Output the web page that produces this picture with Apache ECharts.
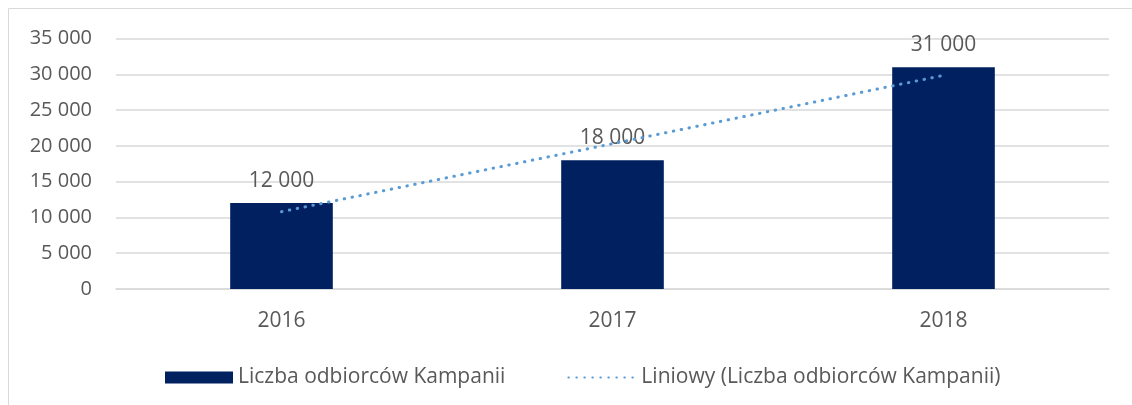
<!DOCTYPE html>
<html>
<head>
<meta charset="utf-8">
<script src="https://cdn.jsdelivr.net/npm/echarts@6/dist/echarts.min.js"></script>
<style>
  html, body { margin: 0; padding: 0; background: #fff; }
  #chart { width: 1132px; height: 405px; }
</style>
</head>
<body>
<div id="chart"></div>
<script>
const years = ['2016', '2017', '2018'];
const odbiorcy = [12000, 18000, 31000];
// linia trendu
const trend = [10800, 20300, 29850];
const barName = 'Liczba odbiorców Kampanii';
const trendName = 'Liniowy (Liczba odbiorców Kampanii)';

const textColor = '#595959';
const fontFamily = '"Open Sans", "Liberation Sans", sans-serif';

// format z odstepem tysiecy, np. 12 000
function fmt(v) {
    return String(v).replace(/\B(?=(\d{3})+(?!\d))/g, ' ');
}

document.addEventListener('DOMContentLoaded', () => {
    var chart = echarts.init(document.getElementById('chart'));

    const option = {
        animation: false,
        textStyle: { fontFamily: fontFamily },
        graphic: [{
            type: 'rect',
            shape: { x: 8.5, y: 8.5, width: 1300, height: 600 },
            style: { fill: 'none', stroke: '#d9d9d9', lineWidth: 1 },
            silent: true
        }],
        grid: { left: 116, right: 23, top: 38.5, bottom: 116 },
        legend: {
            left: 160,
            top: 362,
            itemWidth: 68,
            itemHeight: 12,
            itemGap: 62,
            textStyle: { color: textColor, fontSize: 21, fontFamily: fontFamily },
            data: [
                { name: barName, icon: 'rect' },
                { name: trendName, itemStyle: { color: 'transparent', borderWidth: 0 } }
            ]
        },
        xAxis: {
            type: 'category',
            data: years,
            axisLine: { lineStyle: { color: '#d9d9d9', width: 1.5 } },
            axisTick: { show: false },
            axisLabel: { color: textColor, fontSize: 21, margin: 22 }
        },
        yAxis: {
            type: 'value',
            min: 0,
            max: 35000,
            interval: 5000,
            axisLine: { show: false },
            axisTick: { show: false },
            splitLine: { lineStyle: { color: '#d9d9d9', width: 1.5 } },
            axisLabel: { color: textColor, fontSize: 20, margin: 24, formatter: v => fmt(v) }
        },
        series: [{
            name: barName,
            type: 'bar',
            data: odbiorcy,
            barWidth: '31%',
            itemStyle: { color: '#002060' },
            label: {
                show: true,
                position: 'top',
                distance: 12,
                color: textColor,
                fontSize: 21,
                formatter: p => fmt(p.value)
            },
            z: 2
        }, {
            name: trendName,
            type: 'line',
            data: trend,
            symbol: 'none',
            lineStyle: { color: '#5b9bd5', width: 3, type: [0.5, 7.5], cap: 'round' },
            itemStyle: { color: '#5b9bd5' },
            z: 3
        }]
    };

    chart.setOption(option);
    window.addEventListener('resize', () => chart.resize());
});
</script>
</body>
</html>
